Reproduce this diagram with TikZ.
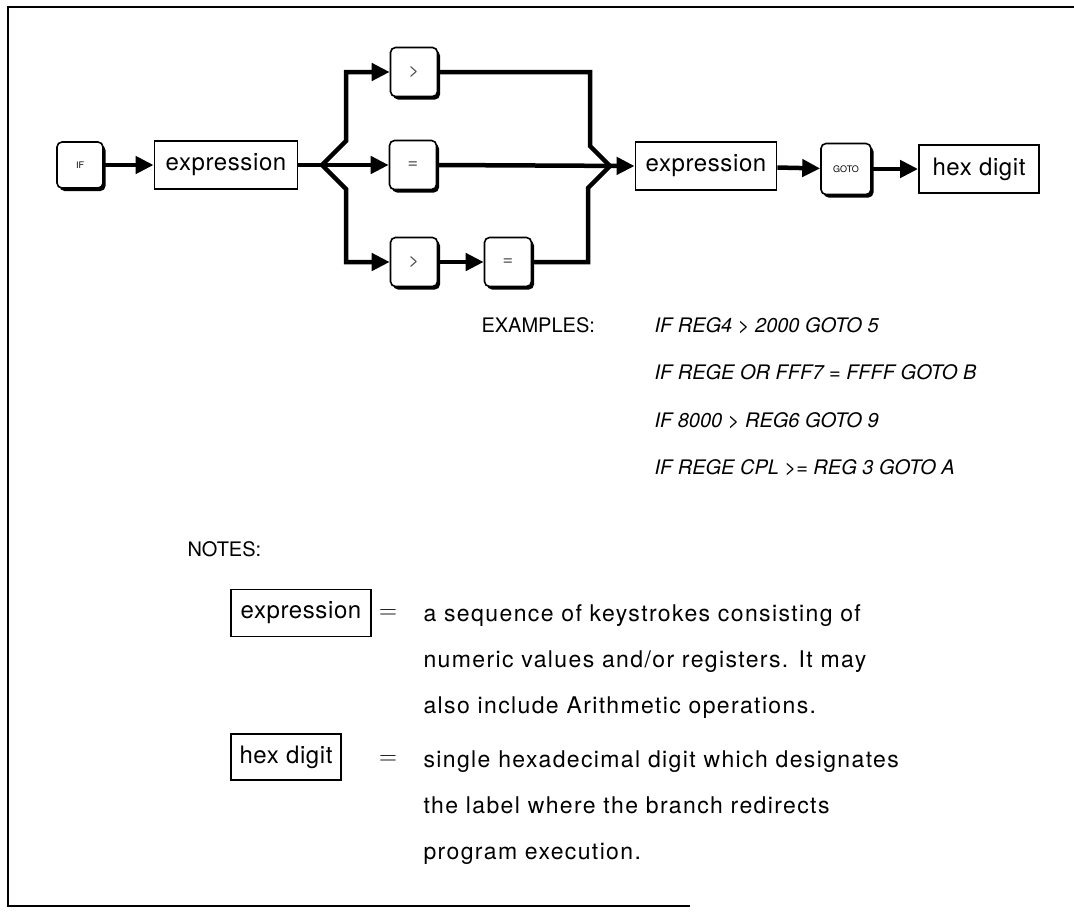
\documentclass[tikz,border=0pt]{standalone}
\usepackage{fontspec}
\setmainfont{TeX Gyre Heros}
\newfontfamily\boxfont[LetterSpace=2.5]{TeX Gyre Heros}
\newfontfamily\notefont[LetterSpace=6]{TeX Gyre Heros}
\usetikzlibrary{arrows.meta,shadows}
\begin{document}
\begin{tikzpicture}[x=1pt,y=-1pt,
  conn/.style={line width=4.5pt, line join=miter},
  arr/.style={conn, -{Triangle[length=18pt,width=17pt]}},
  keycap/.style={draw, line width=1.6pt, rounded corners=5pt, fill=white,
     minimum width=47pt, minimum height=49pt, inner sep=0pt,
     drop shadow={shadow xshift=2.5pt, shadow yshift=-3pt, fill=black, opacity=1}},
  termbox/.style={draw, line width=1.8pt, minimum height=48pt, inner sep=0pt,
     font=\boxfont\fontsize{24}{28}\selectfont},
  keylbl/.style={font=\fontsize{18}{20}\selectfont, text=black!70},
  tinylbl/.style={font=\fontsize{9}{11}\selectfont},
  ex/.style={anchor=base west, font=\fontsize{20}{24}\selectfont\itshape},
  note/.style={anchor=base west, font=\notefont\fontsize{23}{27}\selectfont}
]
\useasboundingbox (0,0) rectangle (1074,911);
% frame
\draw[line width=2.5pt] (690,906) -- (8,906) -- (8,7) -- (1074,7);

% main row
\node[keycap, minimum width=46pt, minimum height=46pt] (kif) at (80,165) {};
\node[tinylbl] at (kif) {IF};
\node[termbox, minimum width=143pt] (e1) at (226,165) {expression};
\node[keycap] (k1) at (414,72) {};
\node[keylbl] at (k1) {>};
\node[keycap] (k2) at (413,165) {};
\node[keylbl] at (k2) {=};
\node[keycap] (k4) at (414,262) {};
\node[keylbl] at (k4) {>};
\node[keycap] (k5) at (508,262) {};
\node[keylbl] at (k5) {=};
\node[termbox, minimum width=141pt] (e2) at (706,166) {expression};
\node[keycap, minimum width=50pt, minimum height=51pt] (kg) at (846,169) {};
\node[tinylbl] at (kg) {GOTO};
\node[termbox, minimum width=120pt] (hx) at (979,169) {hex digit};

% junction points
\coordinate (s) at (322,165);
\coordinate (su) at (346,141);
\coordinate (sut) at (346,72);
\coordinate (sd) at (346,189);
\coordinate (sdb) at (346,262);
\coordinate (m) at (610,166);
\coordinate (mu) at (590,146);
\coordinate (mut) at (590,72);
\coordinate (md) at (588,188);
\coordinate (mdb) at (588,262);

\draw[arr] (kif) -- (e1);
\draw[conn] (e1.east) -- (s);
\draw[arr] (s) -- (su) -- (sut) -- (k1.west);
\draw[arr] (s) -- (k2.west);
\draw[arr] (s) -- (sd) -- (sdb) -- (k4.west);
\draw[arr] (k4) -- (k5);
\draw[conn] (k1.east) -- (mut) -- (mu) -- (m);
\draw[conn] (k5.east) -- (mdb) -- (md) -- (m);
\draw[arr] (k2.east) -- (e2.west);
\draw[arr] (e2) -- (kg);
\draw[arr] (kg) -- (hx);

% examples
\node[anchor=base west, font=\fontsize{20}{24}\selectfont] (exh) at (478,332) {EXAMPLES:};
\node[ex] (ex1) at (651,332) {IF REG4 > 2000 GOTO 5};
\node[ex] (ex2) at (651,379) {IF REGE OR FFF7 = FFFF GOTO B};
\node[ex] (ex3) at (651,427) {IF 8000 > REG6 GOTO 9};
\node[ex] (ex4) at (651,474) {IF REGE CPL >= REG 3 GOTO A};

% notes
\node[anchor=base west, font=\fontsize{20}{24}\selectfont] (nh) at (184,556) {NOTES:};
\node[termbox, minimum width=140pt, minimum height=47pt] (ne) at (301,613) {expression};
\node[font=\fontsize{24}{26}\selectfont] (eq1) at (388,614) {$=$};
\node[note] (n1) at (420,621) {a sequence of keystrokes consisting of};
\node[note] (n2) at (420,667) {numeric values and/or registers. It may};
\node[note] (n3) at (420,713) {also include Arithmetic operations.};
\node[termbox, minimum width=110pt, minimum height=46pt] (nx) at (286,757) {hex digit};
\node[font=\fontsize{24}{26}\selectfont] (eq2) at (388,760) {$=$};
\node[note] (n4) at (420,767) {single hexadecimal digit which designates};
\node[note] (n5) at (420,813) {the label where the branch redirects};
\node[note] (n6) at (420,859) {program execution.};
\end{tikzpicture}
\end{document}
